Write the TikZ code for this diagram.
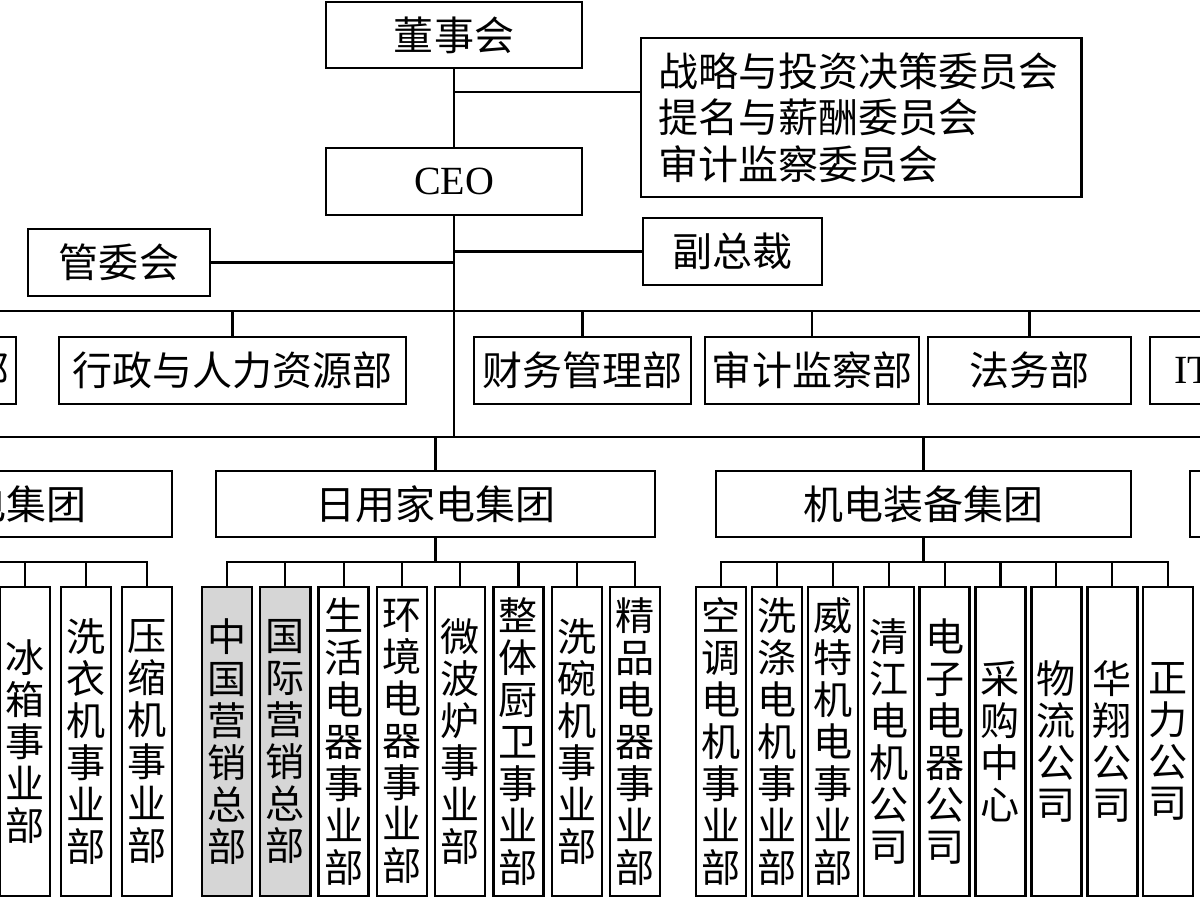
\documentclass[tikz,border=0pt]{standalone}
\usepackage{fontspec}
\setmainfont{Liberation Serif}
\newfontfamily\cjk{Noto Sans CJK SC}
\usetikzlibrary{positioning}
\definecolor{hqgray}{HTML}{D6D6D6}

\begin{document}
\begin{tikzpicture}[x=0.025cm, y=-0.025cm, line width=1.5pt,
    unit/.style={draw, rectangle, inner sep=0pt, minimum height=1.675cm, line width=1.7pt,
                 font=\cjk\fontsize{28.45}{29.6}\selectfont},
    post/.style={draw, rectangle, inner sep=0pt, minimum width=1.25cm, minimum height=7.725cm,
                 line width=1.7pt, align=center, font=\cjk\fontsize{27.8}{29.8}\selectfont}
  ]
  \useasboundingbox (0,0) rectangle (1200,900);
  \clip (0,0) rectangle (1200,900);

  % top of the chart
  \node[unit, minimum width=6.4cm, minimum height=1.65cm] (board) at (454,35) {董事会};
  \node[unit, minimum width=6.4cm] (ceo) at (454,181.5) {\rmfamily CEO};
  \node[unit, anchor=west, minimum height=3.975cm, text width=10.15cm, inner xsep=0.425cm, align=left,
        font=\cjk\fontsize{28.45}{33.2}\selectfont] (comm) at (640,117.5)
        {战略与投资决策委员会\\提名与薪酬委员会\\审计监察委员会};
  \node[unit, minimum width=4.55cm] (mgmt) at (119,262.5) {管委会};
  \node[unit, minimum width=4.475cm] (vp) at (732.5,251.5) {副总裁};

  % functional departments
  \node[unit, minimum width=1.3cm] (dx) at (-10,370.5) {部};
  \node[unit, minimum width=8.675cm] (hr) at (232.5,370.5) {行政与人力资源部};
  \node[unit, minimum width=5.425cm] (fin) at (582.5,370.5) {财务管理部};
  \node[unit, minimum width=5.35cm] (audit) at (812,370.5) {审计监察部};
  \node[unit, minimum width=5.075cm] (legal) at (1029.5,370.5) {法务部};
  \node[unit, anchor=west, inner xsep=0.6cm] (it) at (1149,370.5) {\rmfamily IT};

  % groups
  \node[unit, minimum height=1.65cm, anchor=east, inner xsep=2.13cm] (fridge) at (173,504) {电集团};
  \node[unit, minimum height=1.65cm, minimum width=10.975cm] (home) at (435.5,504) {日用家电集团};
  \node[unit, minimum height=1.65cm, minimum width=10.375cm] (mech) at (923.5,504) {机电装备集团};
  \node[unit, minimum height=1.65cm, anchor=west, minimum width=3cm] (more) at (1189,504) {};

  % business units
  \foreach \x/\t [count=\i] in {25/冰\\箱\\事\\业\\部, 86/洗\\衣\\机\\事\\业\\部, 147/压\\缩\\机\\事\\业\\部}
    \node[post] (r\i) at (\x,741.5) {\t};
  \foreach \t/\f [count=\i] in {中\\国\\营\\销\\总\\部/hqgray, 国\\际\\营\\销\\总\\部/hqgray,
      生\\活\\电\\器\\事\\业\\部/white, 环\\境\\电\\器\\事\\业\\部/white, 微\\波\\炉\\事\\业\\部/white,
      整\\体\\厨\\卫\\事\\业\\部/white, 洗\\碗\\机\\事\\业\\部/white, 精\\品\\电\\器\\事\\业\\部/white}
    \node[post, fill=\f] (h\i) at ({227+58.3*(\i-1)},741.5) {\t};
  \foreach \t [count=\i] in {空\\调\\电\\机\\事\\业\\部, 洗\\涤\\电\\机\\事\\业\\部, 威\\特\\机\\电\\事\\业\\部,
      清\\江\\电\\机\\公\\司, 电\\子\\电\\器\\公\\司, 采\\购\\中\\心, 物\\流\\公\\司, 华\\翔\\公\\司, 正\\力\\公\\司}
    \node[post] (m\i) at ({721+55.9*(\i-1)},741.5) {\t};

  % connectors
  \coordinate (cj) at (454,92);
  \coordinate (dl) at (-20,311);
  \coordinate (dr) at (1220,311);
  \coordinate (gl) at (-20,437);
  \coordinate (gr) at (1220,437);
  \coordinate (ul) at (-20,562);
  \draw (board) -- (ceo);
  \draw (cj) -- (cj -| comm.west);
  \draw (mgmt.east) -- (mgmt.east -| ceo.south);
  \draw (vp.west) -- (vp.west -| ceo.south);
  \draw (ceo.south) -- (ceo.south |- gl);
  \draw (dl) -- (dr);
  \draw (gl) -- (gr);
  \foreach \n in {hr,fin,audit,legal}
    \draw (\n.north) -- (\n.north |- dl);
  \foreach \n in {home,mech}
    \draw (\n.north) -- (\n.north |- gl);

  \draw (ul) -| (r3.north);
  \foreach \i in {1,2}
    \draw (r\i.north) -- (r\i.north |- ul);

  \draw (home.south) -- (home.south |- ul);
  \draw (h1.north) |- (h8.north |- ul) -- (h8.north);
  \foreach \i in {2,...,7}
    \draw (h\i.north) -- (h\i.north |- ul);

  \draw (mech.south) -- (mech.south |- ul);
  \draw (m1.north) |- (m9.north |- ul) -- (m9.north);
  \foreach \i in {2,...,8}
    \draw (m\i.north) -- (m\i.north |- ul);
\end{tikzpicture}
\end{document}
